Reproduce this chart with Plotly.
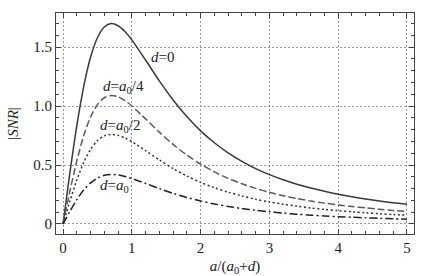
import plotly.graph_objects as go

x_vals = [0, 0.1, 0.2, 0.3, 0.4, 0.5, 0.6, 0.7, 0.8, 0.9, 1.0, 1.2, 1.4, 1.6, 1.8, 2.0,
          2.2, 2.4, 2.6, 2.8, 3.0, 3.2, 3.4, 3.6, 3.8, 4.0, 4.2, 4.4, 4.6, 4.8, 5.0]
snr_d0 = [0, 0.435, 0.833, 1.164, 1.414, 1.580, 1.671, 1.700, 1.682, 1.633, 1.562, 1.391, 1.214, 1.052, 0.911, 0.790,
          0.689, 0.603, 0.531, 0.470, 0.419, 0.375, 0.337, 0.305, 0.277, 0.252, 0.231, 0.212, 0.195, 0.180, 0.167]
snr_d_quarter = [0, 0.279, 0.534, 0.747, 0.907, 1.013, 1.071, 1.090, 1.079, 1.047, 1.001, 0.892, 0.779, 0.675, 0.584, 0.507,
                 0.442, 0.387, 0.341, 0.302, 0.269, 0.240, 0.216, 0.195, 0.177, 0.162, 0.148, 0.136, 0.125, 0.115, 0.107]
snr_d_half = [0, 0.195, 0.372, 0.521, 0.632, 0.707, 0.747, 0.760, 0.752, 0.730, 0.698, 0.622, 0.543, 0.470, 0.407, 0.353,
              0.308, 0.270, 0.238, 0.210, 0.187, 0.168, 0.151, 0.136, 0.124, 0.113, 0.103, 0.095, 0.087, 0.080, 0.074]
snr_d_a0 = [0, 0.107, 0.206, 0.288, 0.349, 0.390, 0.413, 0.420, 0.416, 0.403, 0.386, 0.344, 0.300, 0.260, 0.225, 0.195,
            0.170, 0.149, 0.131, 0.116, 0.104, 0.093, 0.083, 0.075, 0.068, 0.062, 0.057, 0.052, 0.048, 0.044, 0.041]

x_ticks = [0, 1, 2, 3, 4, 5]
y_ticks = [0, 0.5, 1.0, 1.5]
y_tick_labels = ["0", "0.5", "1.0", "1.5"]

labels = ["<i>d</i>=0", "<i>d</i>=<i>a</i><sub>0</sub>/4", "<i>d</i>=<i>a</i><sub>0</sub>/2", "<i>d</i>=<i>a</i><sub>0</sub>"]
label_x = [1.44, 0.88, 0.83, 0.75]
label_y = [1.42, 1.16, 0.83, 0.32]

series = [snr_d0, snr_d_quarter, snr_d_half, snr_d_a0]
colors = ["#3a3a3a", "#5a5a5a", "#333333", "#222222"]
dashes = ["solid", "7px,3px", "2px,2.5px", "8px,3px,2px,3px"]

fig = go.Figure()
for ys, c, d in zip(series, colors, dashes):
    fig.add_trace(go.Scatter(x=x_vals, y=ys, mode="lines",
                             line=dict(color=c, width=1.5, dash=d, shape="spline", smoothing=0.8),
                             showlegend=False, hoverinfo="skip"))

font_family = "Times New Roman, Liberation Serif, serif"
for t, lx, ly in zip(labels, label_x, label_y):
    fig.add_annotation(x=lx, y=ly, text=t, showarrow=False,
                       font=dict(family=font_family, size=15, color="#222"))

axis_common = dict(
    showline=True, linecolor="#444", linewidth=1.2, mirror="ticks",
    ticks="inside", ticklen=5, tickcolor="#444",
    showgrid=True, gridcolor="#999", griddash="2px,2px", gridwidth=1,
    zeroline=False, automargin=False,
    tickfont=dict(family=font_family, size=15, color="#222"),
)

fig.update_xaxes(range=[-0.102, 5.102], tickvals=x_ticks,
                 minor=dict(dtick=0.2, tick0=0, ticks="inside", ticklen=3, tickcolor="#444", showgrid=False),
                 title=dict(text="<i>a</i>/(<i>a</i><sub>0</sub>+<i>d</i>)",
                            font=dict(family=font_family, size=15, color="#222"), standoff=6),
                 **axis_common)
fig.update_yaxes(range=[-0.085, 1.79], tickvals=y_ticks, ticktext=y_tick_labels,
                 minor=dict(dtick=0.1, tick0=0, ticks="inside", ticklen=3, tickcolor="#444", showgrid=False),
                 title=dict(text="|<i>SNR</i>|", font=dict(family=font_family, size=15, color="#222"), standoff=10),
                 **axis_common)

fig.update_layout(width=434, height=276, margin=dict(l=56, r=20, t=13, b=42),
                  plot_bgcolor="white", paper_bgcolor="white",
                  font=dict(family=font_family))

fig.write_html("out.html", config={"displayModeBar": False},
               post_script="document.body.style.margin='0';document.body.style.overflow='hidden';")
